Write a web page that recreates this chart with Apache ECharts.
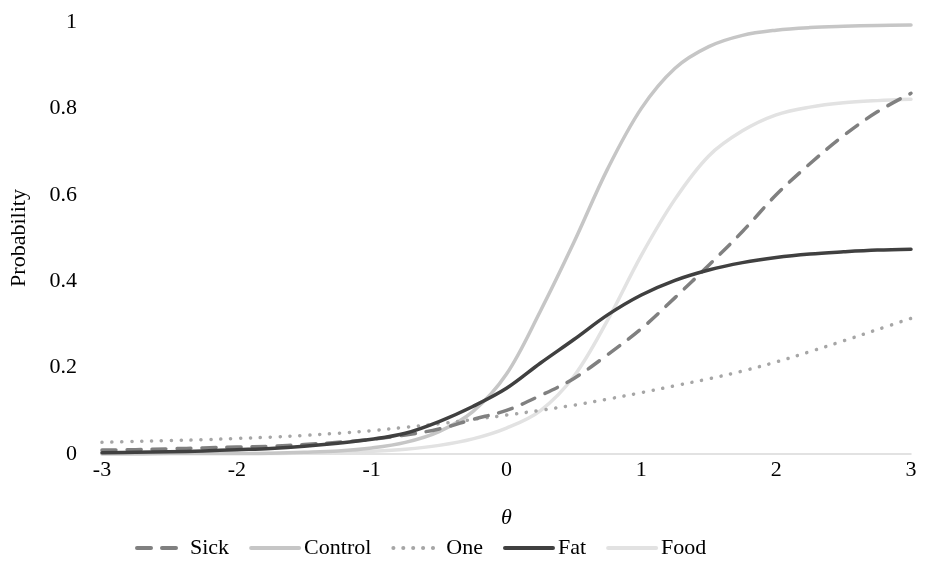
<!DOCTYPE html>
<html><head><meta charset="utf-8">
<script src="https://cdn.jsdelivr.net/npm/echarts@6/dist/echarts.min.js"></script>
<style>html,body{margin:0;padding:0;background:#fff}#c{width:927px;height:566px}</style>
</head><body><div id="c"></div>
<script>
const theta = [-3,-2.75,-2.5,-2.25,-2,-1.75,-1.5,-1.25,-1,-0.75,-0.5,-0.25,0,0.25,0.5,0.75,1,1.25,1.5,1.75,2,2.25,2.5,2.75,3];
const sick    = [0.009,0.010,0.012,0.014,0.016,0.018,0.022,0.027,0.034,0.044,0.058,0.080,0.101,0.135,0.175,0.230,0.290,0.362,0.437,0.515,0.600,0.672,0.737,0.792,0.835];
const control = [0.000,0.000,0.001,0.001,0.001,0.002,0.004,0.007,0.014,0.027,0.052,0.098,0.185,0.330,0.490,0.660,0.800,0.893,0.943,0.969,0.981,0.987,0.990,0.992,0.993];
const one     = [0.027,0.029,0.031,0.033,0.036,0.039,0.043,0.048,0.054,0.062,0.070,0.080,0.090,0.101,0.113,0.127,0.142,0.158,0.174,0.192,0.213,0.237,0.262,0.288,0.314];
const fat     = [0.003,0.004,0.005,0.007,0.010,0.013,0.018,0.025,0.034,0.048,0.075,0.110,0.152,0.210,0.265,0.322,0.368,0.402,0.426,0.443,0.455,0.463,0.468,0.472,0.474];
const food    = [0.000,0.000,0.001,0.001,0.001,0.001,0.002,0.003,0.006,0.011,0.020,0.035,0.060,0.100,0.180,0.310,0.460,0.590,0.690,0.748,0.785,0.803,0.813,0.818,0.821];
const names = ['Sick','Control','One','Fat','Food'];
const yTicks = [0,0.2,0.4,0.6,0.8,1];

const font = '"Liberation Serif", "Times New Roman", serif';
const pair = arr => theta.map((t,i)=>[t,arr[i]]);
const styles = {
  Sick:{color:'#808080',width:3.5,type:[14,11],cap:'round'},
  Control:{color:'#c6c6c6',width:3.5,type:'solid',cap:'round'},
  One:{color:'#a6a6a6',width:3.5,type:[0.1,9.8],cap:'round'},
  Fat:{color:'#404040',width:3.5,type:'solid',cap:'round'},
  Food:{color:'#e2e2e2',width:3.5,type:'solid',cap:'round'}
};
const dataMap = {Sick:sick,Control:control,One:one,Fat:fat,Food:food};
const chart = echarts.init(document.getElementById('c'),null,{renderer:'canvas'});
chart.setOption({
  animation:false,
  backgroundColor:'#fff',
  grid:{left:101,right:16,top:22,bottom:112,containLabel:false},
  xAxis:{type:'value',min:-3,max:3,interval:1,
    name:'θ',nameLocation:'middle',nameGap:53,
    nameTextStyle:{fontFamily:font,fontSize:22,fontStyle:'italic',color:'#000'},
    axisLine:{show:true,onZero:false,lineStyle:{color:'#d9d9d9',width:1.5}},
    axisTick:{show:false},splitLine:{show:false},
    axisLabel:{fontFamily:font,fontSize:22,color:'#000',margin:5}},
  yAxis:{type:'value',min:0,max:1,interval:0.2,
    name:'Probability',nameLocation:'middle',nameGap:72,
    nameTextStyle:{fontFamily:font,fontSize:22,color:'#000'},
    axisLine:{show:false},axisTick:{show:false},splitLine:{show:false},
    axisLabel:{fontFamily:font,fontSize:22,color:'#000',margin:25,
      formatter:v=>{const t=yTicks.find(x=>Math.abs(x-v)<1e-9);return t===undefined?'':String(t);}}},
  legend:{bottom:2,left:130,itemWidth:48,itemHeight:16,itemGap:20,
    itemStyle:{opacity:0},
    lineStyle:{width:4},
    textStyle:{fontFamily:font,fontSize:22,color:'#000'},
    data:names},
  series:names.map(n=>({name:n,type:'line',data:pair(dataMap[n]),smooth:0.35,
    symbol:'none',z:{Sick:5,Control:3,One:4,Fat:6,Food:2}[n],
    lineStyle:{color:styles[n].color,width:styles[n].width,type:styles[n].type,cap:styles[n].cap,join:'round'},
    itemStyle:{color:styles[n].color}}))
});
</script></body></html>
